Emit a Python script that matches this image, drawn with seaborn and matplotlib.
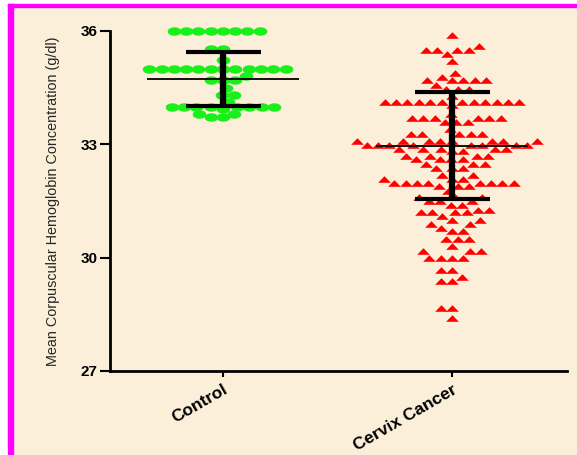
import numpy as np
import pandas as pd
import matplotlib
matplotlib.use('Agg')
import matplotlib.pyplot as plt
from matplotlib.patches import Rectangle
from matplotlib.path import Path
from matplotlib.transforms import Affine2D
import seaborn as sns

# groups and values (value levels + how many dots sit on each)
groups = ['Control', 'Cervix Cancer']

control_levels = [36.0, 35.52, 35.23, 35.0, 34.8, 34.7, 34.5, 34.31, 34.13,
                  34.0, 33.94, 33.8, 33.72]
control_counts = [8, 2, 1, 12, 1, 3, 1, 2, 1, 8, 1, 2, 2]

cervix_levels = [35.9, 35.6, 35.5, 35.4, 35.2, 34.9, 34.78, 34.69, 34.58, 34.47,
                 34.28, 34.12, 34.03, 33.8, 33.7, 33.6, 33.41, 33.27, 33.1, 32.99,
                 32.88, 32.82, 32.7, 32.6, 32.49, 32.38, 32.2, 32.09, 31.98, 31.89,
                 31.77, 31.6, 31.49, 31.4, 31.27, 31.2, 31.09, 30.99, 30.89, 30.79,
                 30.71, 30.49, 30.3, 30.17, 29.99, 29.68, 29.48, 29.39, 28.67, 28.4]
cervix_counts = [1, 1, 4, 1, 1, 1, 1, 5, 1, 3,
                 1, 12, 1, 1, 6, 3, 1, 5, 8, 8,
                 5, 2, 4, 4, 3, 3, 2, 3, 8, 3,
                 1, 3, 3, 2, 2, 4, 1, 2, 2, 1,
                 2, 3, 1, 3, 4, 2, 1, 2, 2, 1]

# mean and SD as drawn
group_mean = [34.73, 32.96]
group_sd = [0.71, 1.42]

y_ticks = [27, 30, 33, 36]
y_label = 'Mean Corpuscular Hemoglobin Concentration (g/dl)'

cream = '#FBEFD9'
control_df = pd.DataFrame({'group': 'Control',
                           'value': np.repeat(control_levels, control_counts)})
cervix_df = pd.DataFrame({'group': 'Cervix Cancer',
                          'value': np.repeat(cervix_levels, cervix_counts)})

sns.set_style('ticks')
plt.rcParams['font.family'] = ['Liberation Sans', 'DejaVu Sans']

fig = plt.figure(figsize=(5.77, 4.55), dpi=100)
fig.patch.set_facecolor(cream)
ax = fig.add_axes([110 / 577, 1 - 371 / 455, 457 / 577, 340 / 455])
ax.set_facecolor(cream)

# flat markers like the original (the picture is stretched sideways)
t = np.linspace(0, 2 * np.pi, 41)
ellipse = Path(np.column_stack([np.cos(t), 0.62 * np.sin(t)]), closed=True)
triangle = Path([(-1, -0.52), (1, -0.52), (0, 0.52), (-1, -0.52)], closed=True)

# size = spacing used by the swarm, grow = how much bigger the mark is drawn,
# widen = sideways stretch of the finished swarm
swarm_setup = [(control_df, ellipse, '#19F019', 5.6, 1.75, 1.5),
               (cervix_df, triangle, '#FF0000', 6.0, 1.52, 1.3)]
swarms = []
for df, mk, col, size, grow, widen in swarm_setup:
    n_before = len(ax.collections)
    sns.swarmplot(data=df, x='group', y='value', order=groups, ax=ax,
                  color=col, marker=mk, size=size, linewidth=0, clip_on=False,
                  warn_thresh=1)
    for coll in ax.collections[n_before:]:
        if len(coll.get_offsets()) > 0:
            coll.set_paths([p.transformed(Affine2D().scale(grow))
                            for p in coll.get_paths()])
            swarms.append((coll, groups.index(df['group'].iloc[0]), widen))

for i, (m, sd) in enumerate(zip(group_mean, group_sd)):
    ax.hlines(m, i - 0.33, i + 0.33, color='black', lw=1.3, zorder=5)
    ax.errorbar(i, m, yerr=sd, color='black', elinewidth=4.5, capsize=27,
                capthick=3, zorder=6)

ax.set_xlim(-0.493, 1.502)
ax.set_ylim(27, 36)
ax.set_yticks(y_ticks)
ax.set_yticklabels([str(v) for v in y_ticks], fontsize=11, fontweight='bold')
ax.set_xticks([0, 1])
ax.set_xticklabels(groups, fontsize=12.5, fontweight='bold', rotation=30,
                   ha='right', rotation_mode='anchor')
ax.set_xlabel('')
ax.set_ylabel(y_label, fontsize=10.4)
ax.yaxis.set_label_coords(-0.109, 0.5)
sns.despine(ax=ax)
for s in ['left', 'bottom']:
    ax.spines[s].set_linewidth(2)
    ax.spines[s].set_color('black')
ax.tick_params(axis='both', width=1.5, color='black', labelcolor='black')
ax.tick_params(axis='y', length=7, pad=2)
ax.tick_params(axis='x', length=4, pad=4)

# let seaborn lay out the swarms, then widen them sideways like the original
fig.canvas.draw()
for coll, center, widen in swarms:
    xy = np.asarray(coll.get_offsets()).copy()
    coll.__dict__.pop('draw', None)
    xy[:, 0] = center + (xy[:, 0] - center) * widen
    coll.set_offsets(xy)

# page frame: white margin and magenta border, top and left
fig.patches.append(Rectangle((0, 1 - 4 / 455), 1, 4 / 455, transform=fig.transFigure,
                             color='white', zorder=0))
fig.patches.append(Rectangle((0, 0), 8 / 577, 1, transform=fig.transFigure,
                             color='white', zorder=0))
fig.patches.append(Rectangle((8 / 577, 1 - 7 / 455), 1, 3 / 455, transform=fig.transFigure,
                             color='#FF00FF', zorder=0))
fig.patches.append(Rectangle((8 / 577, 0), 5 / 577, 1 - 4 / 455, transform=fig.transFigure,
                             color='#FF00FF', zorder=0))

fig.savefig('out.png', dpi=100, facecolor=fig.get_facecolor())
